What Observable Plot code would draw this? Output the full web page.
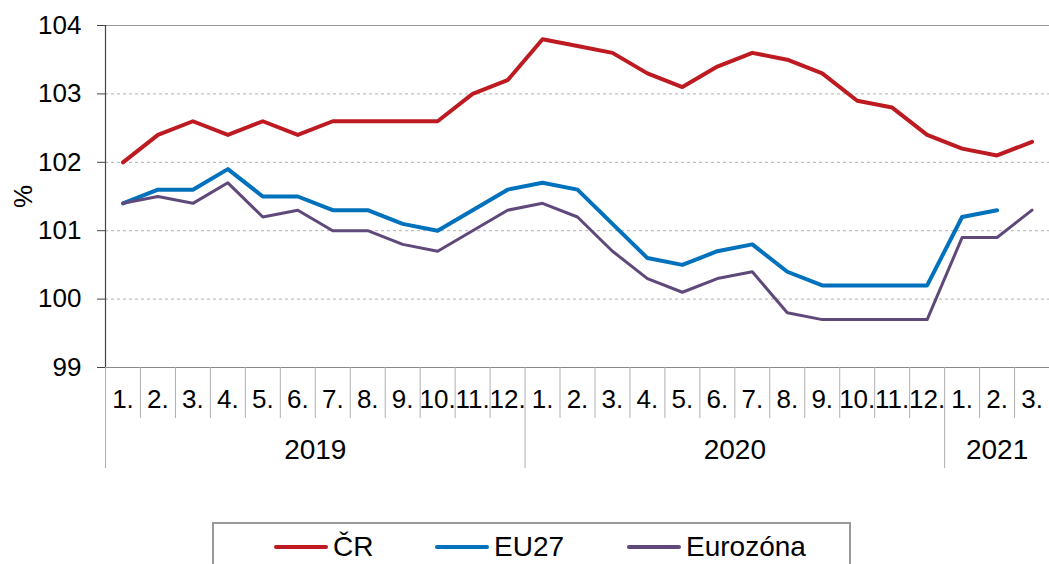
<!DOCTYPE html>
<html>
<head>
<meta charset="utf-8">
<script src="https://cdn.jsdelivr.net/npm/d3@7"></script>
<script src="https://cdn.jsdelivr.net/npm/@observablehq/plot@0.6"></script>
<style>
  html, body { margin: 0; padding: 0; background: #fff; }
  body { width: 1049px; height: 564px; overflow: hidden; font-family: "Liberation Sans", Arial, sans-serif; }
  #chart svg { display: block; }
  #legend { position: relative; margin-left: 212px; width: 639px; height: 60px; border: 2px solid #999; box-sizing: border-box; }
  .item { position: absolute; top: 7px; display: flex; align-items: center; font-size: 28px; color: #000; }
  .sw { display: inline-block; width: 54px; height: 4px; border-radius: 2px; margin-right: 5px; }
</style>
</head>
<body>
<div id="chart"></div>
<div id="legend"></div>
<script>
// Month labels (27 months: 2019-01 .. 2021-03)
const monthLabels = ["1.","2.","3.","4.","5.","6.","7.","8.","9.","10.","11.","12.",
                     "1.","2.","3.","4.","5.","6.","7.","8.","9.","10.","11.","12.",
                     "1.","2.","3."];
const years = ["2019", "2020", "2021"];
const yearCenters = [5.5, 17.5, 25];
const yearBounds = [-0.5, 11.5, 23.5];
const yTicks = [99, 100, 101, 102, 103, 104];

const seriesNames = ["ČR", "EU27", "Eurozóna"];
const seriesColors = ["#BD1B21", "#0071BC", "#5F497A"];
const seriesWidths = [4, 4, 3];

const cr = [102.0, 102.4, 102.6, 102.4, 102.6, 102.4, 102.6, 102.6, 102.6, 102.6, 103.0, 103.2,
            103.8, 103.7, 103.6, 103.3, 103.1, 103.4, 103.6, 103.5, 103.3, 102.9, 102.8, 102.4,
            102.2, 102.1, 102.3];
const eu27 = [101.4, 101.6, 101.6, 101.9, 101.5, 101.5, 101.3, 101.3, 101.1, 101.0, 101.3, 101.6,
              101.7, 101.6, 101.1, 100.6, 100.5, 100.7, 100.8, 100.4, 100.2, 100.2, 100.2, 100.2,
              101.2, 101.3, null];
const eurozona = [101.4, 101.5, 101.4, 101.7, 101.2, 101.3, 101.0, 101.0, 100.8, 100.7, 101.0, 101.3,
                  101.4, 101.2, 100.7, 100.3, 100.1, 100.3, 100.4, 99.8, 99.7, 99.7, 99.7, 99.7,
                  100.9, 100.9, 101.3];

const seriesValues = [cr, eu27, eurozona];
const tables = seriesValues.map(vals => vals.map((v, i) => ({i, v})).filter(d => d.v != null));

const monthSeps = d3.range(28).map(i => i - 0.5).filter(t => !yearBounds.includes(t) && t < 26.5);

const chart = Plot.plot({
  width: 1049,
  height: 480,
  marginTop: 25,
  marginBottom: 113,
  marginLeft: 105,
  marginRight: 0,
  style: { fontFamily: "'Liberation Sans', Arial, sans-serif", color: "#000", background: "#fff" },
  x: { type: "linear", domain: [-0.5, 26.5] },
  y: { domain: [99, 104] },
  marks: [
    Plot.gridY({ ticks: [100, 101, 102, 103], stroke: "#b0b0b0", strokeOpacity: 1, strokeDasharray: "3,3" }),
    Plot.ruleY([104], { stroke: "#999" }),
    Plot.ruleY([99], { stroke: "#888" }),
    Plot.ruleX([-0.5], { stroke: "#444", strokeWidth: 1.2 }),
    Plot.axisY({ ticks: yTicks, tickSize: 8, tickPadding: 16, fontSize: 26, tickFormat: d => String(d),
                 stroke: "#444", label: "%", labelAnchor: "center", labelArrow: "none", labelOffset: 92 }),
    // month separators
    Plot.axisX({ ticks: monthSeps, tickSize: 51, tickFormat: () => "", stroke: "#b0b0b0", label: null }),
    // year separators
    Plot.axisX({ ticks: yearBounds, tickSize: 101, tickFormat: () => "", stroke: "#b0b0b0", label: null }),
    // month labels
    Plot.axisX({ ticks: d3.range(27), tickSize: 0, tickPadding: 22, fontSize: 26,
                 tickFormat: i => monthLabels[i], label: null }),
    // year labels
    Plot.axisX({ ticks: yearCenters, tickSize: 0, tickPadding: 72, fontSize: 28,
                 tickFormat: c => years[yearCenters.indexOf(c)], label: null }),
    ...tables.map((t, k) => Plot.line(t, { x: "i", y: "v", stroke: seriesColors[k], strokeWidth: seriesWidths[k],
                                            strokeLinejoin: "round", strokeLinecap: "round" }))
  ]
});
document.getElementById("chart").appendChild(chart);

// Legend
const legend = document.getElementById("legend");
legend.style.marginTop = "42px";
const legendLefts = [60, 221, 413];
seriesNames.forEach((name, k) => {
  const it = document.createElement("div");
  it.className = "item";
  it.style.left = legendLefts[k] + "px";
  const sw = document.createElement("span");
  sw.className = "sw";
  sw.style.background = seriesColors[k];
  const tx = document.createElement("span");
  tx.textContent = name;
  it.appendChild(sw);
  it.appendChild(tx);
  legend.appendChild(it);
});
</script>
</body>
</html>
